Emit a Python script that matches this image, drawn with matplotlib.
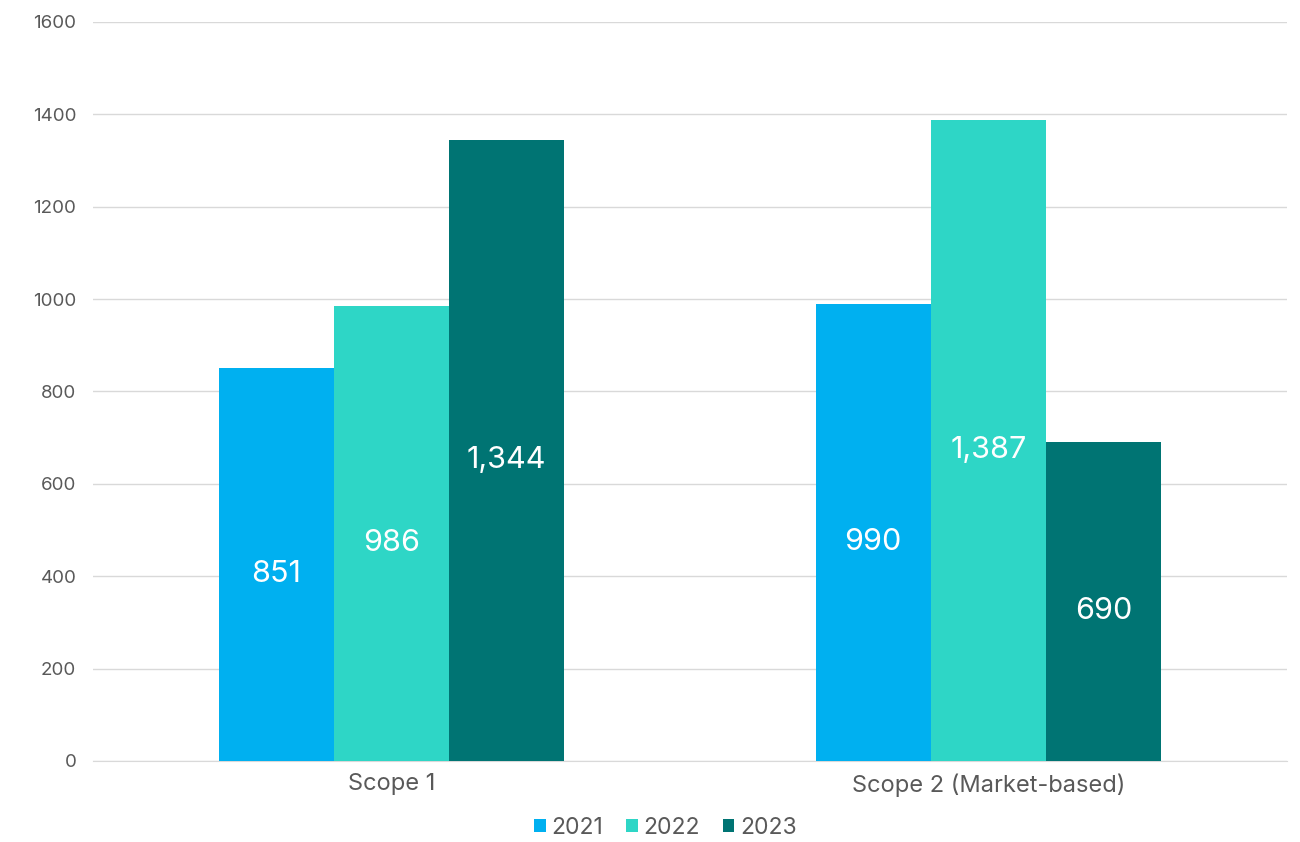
import numpy as np
import matplotlib
matplotlib.use("Agg")
import matplotlib.pyplot as plt

plt.rcParams['font.family'] = ['Inter', 'DejaVu Sans']

categories = ["Scope 1", "Scope 2 (Market-based)"]
years = ["2021", "2022", "2023"]
values_2021 = [851, 990]
values_2022 = [986, 1387]
values_2023 = [1344, 690]
colors = ["#00B0F0", "#2ED6C6", "#007473"]
text_grey = "#595959"

series = [values_2021, values_2022, values_2023]

fig = plt.figure(figsize=(13, 8.42), dpi=100)
ax = fig.add_axes([0.0715, 0.0962, 0.9185, 0.8777])

x = np.arange(len(categories))
width = 0.193
for i, (vals, year, col) in enumerate(zip(series, years, colors)):
    pos = x + (i - 1) * width
    bars = ax.bar(pos, vals, width, color=col, label=year, zorder=3)
    for b, v in zip(bars, vals):
        ax.annotate(f"{v:,}", (b.get_x() + b.get_width() / 2, v / 2), xytext=(0, -7),
                    textcoords="offset points", ha="center", va="center",
                    color="white", fontsize=22, zorder=4)

ax.set_xlim(-0.5, 1.5)
ax.set_ylim(0, 1600)
ax.set_yticks(range(0, 1601, 200))
ax.yaxis.grid(True, color="#d9d9d9", linewidth=1, zorder=0)
for s in ["top", "right", "left"]:
    ax.spines[s].set_visible(False)
ax.spines["bottom"].set_color("#d9d9d9")
ax.tick_params(axis="y", length=0, labelsize=13.5, labelcolor=text_grey, pad=12)
ax.tick_params(axis="x", length=0, labelsize=17, labelcolor=text_grey, pad=9)
ax.set_xticks(x)
ax.set_xticklabels(categories)

# legend centred under the plot, placed in figure coords
leg = ax.legend(loc="center", bbox_to_anchor=(0.512, 0.0166), bbox_transform=fig.transFigure,
                ncol=3, frameon=False, borderpad=0,
                fontsize=16.5, handlelength=0.5, handleheight=0.5, handletextpad=0.25,
                columnspacing=1.0, labelcolor=text_grey)

fig.savefig("out.png", dpi=100)
